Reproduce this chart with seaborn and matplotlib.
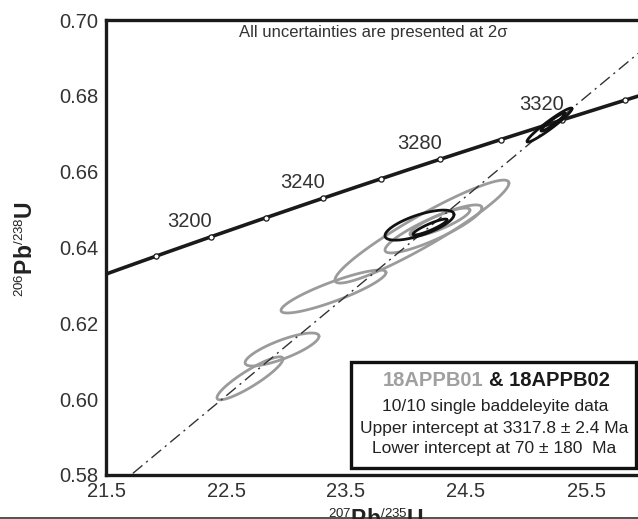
import numpy as np
import pandas as pd
import matplotlib
matplotlib.use("Agg")
import matplotlib.pyplot as plt
import matplotlib._mathtext as mathtext_mod
import seaborn as sns
from matplotlib.patches import Rectangle
from matplotlib.lines import Line2D

# decay constants (per Ma)
L238 = 1.55125e-4
L235 = 9.8485e-4

# concordia age marks and labels
tick_ages = [3180, 3200, 3220, 3240, 3260, 3280, 3300, 3320, 3340, 3360]
label_ages = [3200, 3240, 3280, 3320]

# discordia intercepts (Ma)
upper_age = 3317.8
lower_age = 70

# analyses: 207Pb/235U, 206Pb/238U, 2s errors, error correlation
sample = ["18APPB01"] * 6 + ["18APPB02"] * 4
x_val = [22.70, 22.967, 23.396, 24.133, 24.229, 24.283, 24.1125, 24.20, 25.196, 25.225]
y_val = [0.6055, 0.6131, 0.6284, 0.6442, 0.6449, 0.6467, 0.6459, 0.6454, 0.6723, 0.6731]
x_err = [0.275, 0.308, 0.4375, 0.725, 0.404, 0.25, 0.2875, 0.142, 0.1875, 0.10]
y_err = [0.00567, 0.00435, 0.00567, 0.01358, 0.00633, 0.0037, 0.00396, 0.0021, 0.00448, 0.0024]
rho = [0.90, 0.80, 0.88, 0.94, 0.875, 0.85, 0.70, 0.90, 0.96, 0.95]

x_ticks = [21.5, 22.5, 23.5, 24.5, 25.5]
y_ticks = [0.58, 0.60, 0.62, 0.64, 0.66, 0.68, 0.70]


def concordia(t):
    return np.exp(L235 * np.asarray(t, float)) - 1, np.exp(L238 * np.asarray(t, float)) - 1


sns.set_theme(style="white")
plt.rcParams["font.family"] = ["Liberation Sans", "DejaVu Sans"]
plt.rcParams["mathtext.fontset"] = "custom"
plt.rcParams["mathtext.rm"] = "Liberation Sans"
plt.rcParams["mathtext.bf"] = "Liberation Sans:bold"
# smaller isotope superscripts
mathtext_mod.SHRINK_FACTOR = 0.58

fig = plt.figure(figsize=(6.38, 5.19), dpi=100)
ax = fig.add_axes([106 / 638, 44 / 519, 540 / 638, 455 / 519])

# concordia curve
t_curve = np.linspace(3150, 3380, 300)
cx, cy = concordia(t_curve)
curve = pd.DataFrame({"x": cx, "y": cy})
sns.lineplot(data=curve, x="x", y="y", sort=False, color="#1a1a1a", lw=2.6, ax=ax, zorder=4)

mx, my = concordia(tick_ages)
marks = pd.DataFrame({"x": mx, "y": my})
sns.scatterplot(data=marks, x="x", y="y", marker="o", s=14, facecolor="white",
                edgecolor="#1a1a1a", linewidth=0.9, ax=ax, zorder=5)

lx, ly = concordia(label_ages)
for a, xx, yy in zip(label_ages, lx, ly):
    ax.annotate(str(a), (xx, yy), xytext=(-15, 11), textcoords="offset points",
                ha="center", va="center", fontsize=14.5, color="#333333")

# discordia line
dx, dy = concordia([lower_age, upper_age])
slope = (dy[1] - dy[0]) / (dx[1] - dx[0])
xs = np.array([21.0, 26.5])
ys = dy[1] + slope * (xs - dx[1])
ax.plot(xs, ys, color="#333333", lw=1.0, ls=(0, (9, 3.5, 1.5, 3.5)), zorder=3)

# error ellipses
th = np.linspace(0, 2 * np.pi, 120)
df = pd.DataFrame({"sample": sample, "x": x_val, "y": y_val, "sx": x_err, "sy": y_err, "rho": rho})
colors = {"18APPB01": "#9b9b9b", "18APPB02": "#111111"}
for s in ["18APPB01", "18APPB02"]:
    for _, r in df[df["sample"] == s].iterrows():
        ex = r.x + r.sx * np.cos(th)
        ey = r.y + r.sy * (r.rho * np.cos(th) + np.sqrt(1 - r.rho ** 2) * np.sin(th))
        ax.plot(ex, ey, color=colors[s], lw=2.0, zorder=6 if s == "18APPB02" else 2)

ax.set_xlim(21.5, 26.0)
ax.set_ylim(0.58, 0.70)
ax.set_xticks(x_ticks)
ax.set_xticks(np.arange(22.0, 26.01, 1.0), minor=True)
ax.set_yticks(y_ticks)
ax.set_yticks(np.arange(0.59, 0.70, 0.02), minor=True)
ax.set_xticklabels([f"{v:.1f}" for v in x_ticks])
ax.set_yticklabels([f"{v:.2f}" for v in y_ticks])
ax.set_xlabel("")
ax.set_ylabel("")
ax.tick_params(axis="x", which="major", direction="in", length=5, width=1.2, pad=5,
               labelsize=14.5, colors="#222222", labelcolor="#333333")
ax.tick_params(axis="x", which="minor", direction="in", length=4, width=1.2, colors="#222222")
ax.tick_params(axis="y", which="major", direction="inout", length=8, width=1.2, pad=1.5,
               labelsize=14.5, colors="#222222", labelcolor="#333333")
ax.tick_params(axis="y", which="minor", direction="in", length=4, width=1.2, colors="#222222")
for side in ["left", "bottom", "top"]:
    ax.spines[side].set_linewidth(2.4)
    ax.spines[side].set_color("#1a1a1a")
ax.spines["right"].set_visible(False)

fig.text(373 / 638, (519 - 33) / 519, "All uncertainties are presented at 2σ",
         ha="center", va="center", fontsize=12, color="#333333")

# axis labels
fig.text(26 / 638, (519 - 249) / 519, r"$^{206}$Pb$^{/238}$U", rotation=90,
         ha="center", va="center", fontsize=16.5, fontweight="bold", color="#222222")
fig.text(376 / 638, (519 - 508) / 519, r"$^{207}$Pb$^{/235}$U",
         ha="center", va="top", fontsize=16.5, fontweight="bold", color="#222222")

# info box
box = Rectangle((351 / 638, 51 / 519), 285 / 638, 106 / 519, transform=fig.transFigure,
                facecolor="white", edgecolor="#111111", lw=2.4, zorder=10)
fig.add_artist(box)
fig.text(483 / 638, (519 - 381) / 519, "18APPB01", ha="right", va="center",
         fontsize=14.5, fontweight="bold", color="#a0a0a0", zorder=11)
fig.text(489 / 638, (519 - 381) / 519, "& 18APPB02", ha="left", va="center",
         fontsize=14.5, fontweight="bold", color="#1a1a1a", zorder=11)
fig.text(495 / 638, (519 - 407) / 519, "10/10 single baddeleyite data", ha="center",
         va="center", fontsize=12.5, color="#222222", zorder=11)
fig.text(494.5 / 638, (519 - 428) / 519, "Upper intercept at 3317.8 ± 2.4 Ma", ha="center",
         va="center", fontsize=12.5, color="#222222", zorder=11)
fig.text(494.5 / 638, (519 - 449) / 519, "Lower intercept at 70 ± 180  Ma", ha="center",
         va="center", fontsize=12.5, color="#222222", zorder=11)

fig.add_artist(Line2D([0, 1], [1.5 / 519, 1.5 / 519], transform=fig.transFigure,
                      color="#333333", lw=1.2))

fig.savefig("out.png", dpi=100)
